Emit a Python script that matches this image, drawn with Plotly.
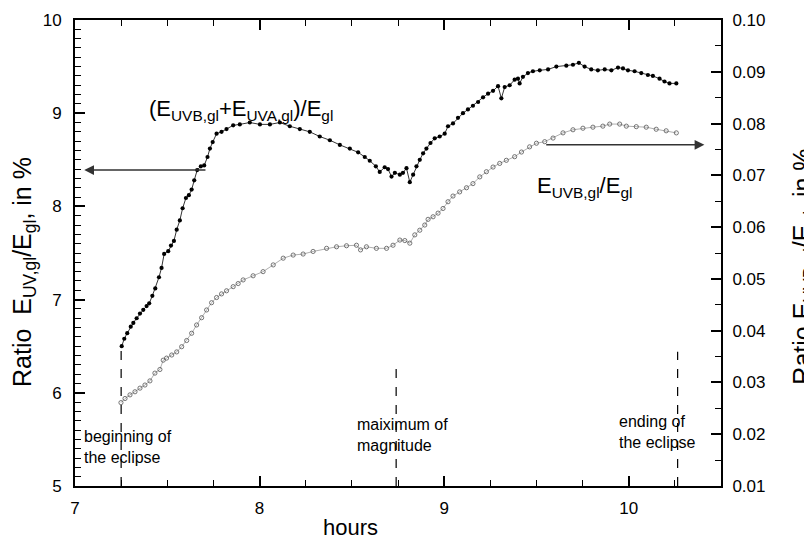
import plotly.graph_objects as go

# ---- data ----
t_total = [7.253, 7.267, 7.283, 7.302, 7.316, 7.334, 7.352, 7.370, 7.388, 7.402,
           7.419, 7.435, 7.455, 7.469, 7.483, 7.505, 7.520, 7.536, 7.551, 7.568,
           7.583, 7.601, 7.617, 7.632, 7.646, 7.662, 7.682, 7.700, 7.718, 7.731,
           7.746, 7.767, 7.794, 7.821, 7.857, 7.893, 7.947, 8.002, 8.056, 8.110,
           8.164, 8.218, 8.272, 8.326, 8.381, 8.435, 8.489, 8.534, 8.570, 8.597,
           8.630, 8.651, 8.678, 8.696, 8.715, 8.733, 8.760, 8.777, 8.796, 8.814,
           8.832, 8.850, 8.868, 8.886, 8.904, 8.926, 8.949, 8.976, 9.003, 9.021,
           9.048, 9.075, 9.102, 9.129, 9.156, 9.184, 9.211, 9.238, 9.265, 9.292,
           9.310, 9.328, 9.355, 9.382, 9.400, 9.409, 9.427, 9.454, 9.481, 9.518,
           9.563, 9.608, 9.662, 9.698, 9.730, 9.761, 9.797, 9.833, 9.870, 9.906,
           9.942, 9.969, 9.996, 10.032, 10.068, 10.104, 10.131, 10.167, 10.194, 10.221,
           10.258]
ratio_total = [6.50, 6.58, 6.64, 6.71, 6.75, 6.80, 6.85, 6.89, 6.93, 6.96,
               7.04, 7.12, 7.24, 7.34, 7.49, 7.52, 7.58, 7.63, 7.75, 7.85,
               7.98, 8.09, 8.12, 8.18, 8.28, 8.39, 8.43, 8.44, 8.53, 8.62,
               8.69, 8.78, 8.80, 8.83, 8.87, 8.88, 8.90, 8.88, 8.88, 8.90,
               8.86, 8.83, 8.80, 8.75, 8.71, 8.66, 8.62, 8.58, 8.53, 8.49,
               8.43, 8.37, 8.42, 8.40, 8.32, 8.36, 8.34, 8.36, 8.41, 8.26,
               8.34, 8.43, 8.50, 8.57, 8.62, 8.68, 8.73, 8.75, 8.78, 8.86,
               8.89, 8.95, 9.00, 9.04, 9.08, 9.12, 9.17, 9.21, 9.24, 9.29,
               9.16, 9.28, 9.30, 9.36, 9.37, 9.32, 9.39, 9.43, 9.45, 9.46,
               9.47, 9.50, 9.51, 9.52, 9.54, 9.50, 9.47, 9.46, 9.47, 9.46,
               9.49, 9.48, 9.46, 9.45, 9.43, 9.41, 9.40, 9.37, 9.34, 9.32,
               9.32]

t_uvb = [7.249, 7.271, 7.298, 7.325, 7.352, 7.379, 7.406, 7.433, 7.460, 7.478,
         7.496, 7.524, 7.551, 7.578, 7.605, 7.632, 7.659, 7.686, 7.713, 7.740,
         7.767, 7.794, 7.821, 7.857, 7.884, 7.911, 7.965, 8.019, 8.074, 8.128,
         8.182, 8.236, 8.290, 8.363, 8.417, 8.471, 8.525, 8.547, 8.579, 8.633,
         8.688, 8.723, 8.760, 8.787, 8.814, 8.841, 8.868, 8.895, 8.913, 8.940,
         8.967, 8.994, 9.021, 9.048, 9.084, 9.121, 9.156, 9.193, 9.229, 9.265,
         9.301, 9.337, 9.382, 9.419, 9.463, 9.500, 9.545, 9.590, 9.644, 9.698,
         9.752, 9.806, 9.860, 9.897, 9.951, 9.987, 10.041, 10.095, 10.149, 10.203,
         10.258]
ratio_uvb = [0.0261, 0.0269, 0.0276, 0.0282, 0.0289, 0.0295, 0.0303, 0.0318, 0.0325, 0.0343,
             0.0347, 0.0353, 0.0359, 0.0369, 0.0381, 0.0395, 0.0411, 0.0425, 0.0440, 0.0454,
             0.0464, 0.0471, 0.0477, 0.0485, 0.0491, 0.0498, 0.0506, 0.0514, 0.0527, 0.0540,
             0.0546, 0.0548, 0.0553, 0.0559, 0.0562, 0.0564, 0.0565, 0.0556, 0.0562, 0.0559,
             0.0559, 0.0565, 0.0575, 0.0574, 0.0569, 0.0585, 0.0594, 0.0604, 0.0615, 0.0620,
             0.0627, 0.0636, 0.0649, 0.0660, 0.0668, 0.0676, 0.0684, 0.0697, 0.0707, 0.0716,
             0.0723, 0.0729, 0.0736, 0.0745, 0.0755, 0.0762, 0.0765, 0.0772, 0.0782, 0.0788,
             0.0791, 0.0793, 0.0795, 0.0799, 0.0799, 0.0795, 0.0794, 0.0793, 0.0789, 0.0786,
             0.0782]

event_times = [7.25, 8.74, 10.265]
event_tops = [6.50, 6.32, 6.44]
event_labels = ["beginning of<br>the eclipse", "maiximum of<br>magnitude", "ending of<br>the eclipse"]
event_label_x = [7.04, 8.516, 9.934]
event_label_y = [5.42, 5.55, 5.58]

x_ticks = [7, 8, 9, 10]
y_ticks = [5, 6, 7, 8, 9, 10]
y2_ticks = [0.01, 0.02, 0.03, 0.04, 0.05, 0.06, 0.07, 0.08, 0.09, 0.10]

FONT = "Liberation Sans, Arial, sans-serif"

fig = go.Figure()
fig.add_trace(go.Scatter(
    x=t_total, y=ratio_total, mode="lines+markers",
    line=dict(color="black", width=0.8),
    marker=dict(symbol="circle", size=4.2, color="black"),
    showlegend=False))
fig.add_trace(go.Scatter(
    x=t_uvb, y=ratio_uvb, mode="lines+markers", yaxis="y2",
    line=dict(color="#777777", width=0.6),
    marker=dict(symbol="circle-open", size=4.2, color="#555555", line=dict(width=0.8)),
    showlegend=False))

for tx, top in zip(event_times, event_tops):
    fig.add_shape(type="line", xref="x", yref="y", x0=tx, x1=tx, y0=5, y1=top,
                  line=dict(color="black", width=1.2, dash="dash"))

for lab, lx, ly in zip(event_labels, event_label_x, event_label_y):
    fig.add_annotation(text=lab, x=lx, y=ly, xref="x", yref="y", showarrow=False,
                       xanchor="left", yanchor="middle", align="left",
                       font=dict(family=FONT, size=16, color="black"))

# arrows
fig.add_annotation(x=7.05, y=8.39, ax=7.715, ay=8.39, xref="x", yref="y", axref="x", ayref="y",
                   showarrow=True, arrowhead=2, arrowsize=1.3, arrowwidth=1.5, arrowcolor="#333333", text="")
fig.add_annotation(x=10.41, y=0.0759, ax=9.545, ay=0.0759, xref="x", yref="y2", axref="x", ayref="y2",
                   showarrow=True, arrowhead=2, arrowsize=1.3, arrowwidth=1.5, arrowcolor="#333333", text="")

# series labels
fig.add_annotation(text="(E<sub>UVB,gl</sub>+E<sub>UVA,gl</sub>)/E<sub>gl</sub>", x=7.39, y=9.03,
                   xref="x", yref="y", xanchor="left", yanchor="middle", showarrow=False,
                   font=dict(family=FONT, size=22, color="black"))
fig.add_annotation(text="E<sub>UVB,gl</sub>/E<sub>gl</sub>", x=9.49, y=8.21,
                   xref="x", yref="y", xanchor="left", yanchor="middle", showarrow=False,
                   font=dict(family=FONT, size=22, color="black"))

# axis titles
fig.add_annotation(text="Ratio  E<sub>UV,gl</sub>/E<sub>gl</sub>, in %", x=-0.08, y=0.46,
                   xref="paper", yref="paper", textangle=-90, showarrow=False,
                   xanchor="center", yanchor="middle", font=dict(family=FONT, size=25, color="black"))
fig.add_annotation(text="Ratio E<sub>UVB,gl</sub>/E<sub>gl</sub>, in %", x=1.128, y=0.47,
                   xref="paper", yref="paper", textangle=-90, showarrow=False,
                   xanchor="center", yanchor="middle", font=dict(family=FONT, size=25, color="black"))
fig.add_annotation(text="hours", x=0.427, y=-0.09, xref="paper", yref="paper", showarrow=False,
                   xanchor="center", yanchor="middle", font=dict(family=FONT, size=22, color="black"))

axis_common = dict(showline=True, linecolor="black", linewidth=2, ticks="inside",
                   tickcolor="black", tickwidth=1.5, ticklen=10, showgrid=False, zeroline=False,
                   tickfont=dict(family=FONT, size=17, color="black"))

fig.update_layout(
    width=804, height=537,
    margin=dict(l=75, r=83, t=20, b=51),
    paper_bgcolor="white", plot_bgcolor="white",
    xaxis=dict(range=[7, 10.5], tickvals=x_ticks, mirror="ticks", ticklabelstandoff=6,
               minor=dict(dtick=0.25, tick0=7, ticks="inside", ticklen=6, tickcolor="black", tickwidth=1.2),
               **axis_common),
    yaxis=dict(range=[5, 10], tickvals=y_ticks, ticklabelstandoff=8,
               minor=dict(dtick=0.1, tick0=5, ticks="inside", ticklen=6, tickcolor="black", tickwidth=1.2),
               **axis_common),
    yaxis2=dict(range=[0.01, 0.10], tickvals=y2_ticks, tickformat=".2f", overlaying="y", side="right",
                ticklabelstandoff=6,
                minor=dict(dtick=0.005, tick0=0.01, ticks="inside", ticklen=6, tickcolor="black", tickwidth=1.2),
                **axis_common),
)

# remove the default page margin so the 804x537 figure fills the window exactly
fig.write_html("out.html", config={"displayModeBar": False},
               post_script="document.body.style.margin='0';document.body.style.overflow='hidden';")
